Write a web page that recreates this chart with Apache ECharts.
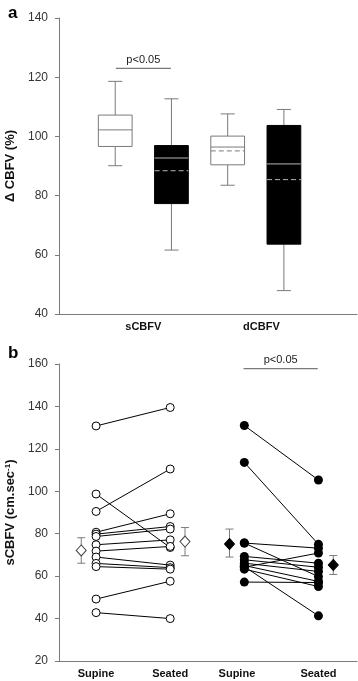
<!DOCTYPE html>
<html>
<head>
<meta charset="utf-8">
<script src="https://cdn.jsdelivr.net/npm/echarts@6/dist/echarts.min.js"></script>
<style>
html, body { margin: 0; padding: 0; background: #fff; }
#main { width: 358px; height: 681px; }
</style>
</head>
<body>
<div id="main"></div>
<script>
// panel a: box summaries of the % change
var groupNames = ['sCBFV', 'dCBFV'];
var groupPos = [1.5, 3.6];
var boxPos = [1, 2, 3, 4];
var boxDark = [0, 1, 0, 1];
var boxMin = [90.1, 61.6, 83.5, 47.9];
var boxQ1 = [96.6, 77.3, 90.4, 63.6];
var boxMedian = [102.2, 92.7, 96.4, 90.7];
var boxQ3 = [107.2, 96.9, 100.1, 103.7];
var boxMax = [118.6, 112.7, 107.6, 109.1];
var boxMean = [102.2, 88.4, 95.1, 85.4];

// panel b: paired subjects, supine -> seated
var posNames = ['Supine', 'Seated', 'Supine', 'Seated'];
var posLabelAt = [1, 2, 2.9, 4];
var openSupine = [130.8, 98.7, 90.5, 80.7, 79.8, 78.7, 74.8, 71.8, 69.0, 66.0, 64.5, 49.2, 42.8];
var openSeated = [139.5, 73.5, 110.5, 89.4, 83.4, 82.2, 77.1, 74.0, 65.2, 64.0, 63.3, 57.6, 40.0];
var filledSupine = [131.0, 113.6, 75.6, 75.6, 69.3, 67.7, 66.1, 65.0, 64.2, 64.5, 63.3, 57.2];
var filledSeated = [105.3, 75.0, 73.2, 59.8, 66.1, 64.2, 62.2, 57.5, 70.9, 41.3, 55.1, 57.0];
var meanPos = [0.8, 2.2, 2.8, 4.2];
var meanVal = [72.1, 76.3, 75.2, 65.3];
var meanLow = [66.1, 69.6, 69.0, 60.8];
var meanHigh = [78.1, 82.9, 82.2, 69.7];
var meanFilled = [0, 0, 1, 1];

var FONT = '"Liberation Sans", Arial, sans-serif';
var AXIS_GREY = '#7a7a7a';

var chart = echarts.init(document.getElementById('main'));

function renderBox(params, api) {
	var x = api.value(0);
	var dark = api.value(7) === 1;
	var half = 0.3, capHalf = 0.125;
	var yOf = function (v) { return api.coord([x, v])[1]; };
	var cx = api.coord([x, 0])[0];
	var l = api.coord([x - half, 0])[0], r = api.coord([x + half, 0])[0];
	var cl = api.coord([x - capHalf, 0])[0], cr = api.coord([x + capHalf, 0])[0];
	var yMin = yOf(api.value(1)), yQ1 = yOf(api.value(2)), yMed = yOf(api.value(3));
	var yQ3 = yOf(api.value(4)), yMax = yOf(api.value(5));
	var ws = { stroke: AXIS_GREY, lineWidth: 1 };
	var inner = dark ? '#b5b5b5' : '#7a7a7a';
	var kids = [
		{ type: 'line', shape: { x1: cx, y1: yMax, x2: cx, y2: yQ3 }, style: ws },
		{ type: 'line', shape: { x1: cl, y1: yMax, x2: cr, y2: yMax }, style: ws },
		{ type: 'line', shape: { x1: cx, y1: yQ1, x2: cx, y2: yMin }, style: ws },
		{ type: 'line', shape: { x1: cl, y1: yMin, x2: cr, y2: yMin }, style: ws },
		{ type: 'rect', shape: { x: l, y: yQ3, width: r - l, height: yQ1 - yQ3 },
			style: { fill: dark ? '#000' : '#fff', stroke: dark ? '#000' : AXIS_GREY, lineWidth: 1 } }
	];
	var mean = api.value(6);
	if (mean !== api.value(3)) {
		var yMean = yOf(mean);
		kids.push({ type: 'line', shape: { x1: l, y1: yMean, x2: r, y2: yMean }, style: { stroke: inner, lineWidth: 1, lineDash: [5, 3] } });
	}
	kids.push({ type: 'line', shape: { x1: l, y1: yMed, x2: r, y2: yMed }, style: { stroke: inner, lineWidth: 1 } });
	return { type: 'group', children: kids };
}

function renderBracket(params, api) {
	var p1 = api.coord([api.value(0), api.value(2)]);
	var p2 = api.coord([api.value(1), api.value(2)]);
	return {
		type: 'group',
		children: [
			{ type: 'line', shape: { x1: p1[0], y1: p1[1], x2: p2[0], y2: p2[1] }, style: { stroke: AXIS_GREY, lineWidth: 1.2 } },
			{ type: 'text', style: { text: 'p<0.05', x: (p1[0] + p2[0]) / 2, y: p1[1] - 3,
				align: 'center', verticalAlign: 'bottom', font: '11px ' + FONT, fill: '#222' } }
		]
	};
}

function renderErr(params, api) {
	var x = api.value(0);
	var lo = api.coord([x, api.value(1)]);
	var hi = api.coord([x, api.value(2)]);
	var w = 4;
	var st = { stroke: AXIS_GREY, lineWidth: 1 };
	return {
		type: 'group',
		children: [
			{ type: 'line', shape: { x1: lo[0], y1: lo[1], x2: hi[0], y2: hi[1] }, style: st },
			{ type: 'line', shape: { x1: lo[0] - w, y1: lo[1], x2: lo[0] + w, y2: lo[1] }, style: st },
			{ type: 'line', shape: { x1: hi[0] - w, y1: hi[1], x2: hi[0] + w, y2: hi[1] }, style: st }
		]
	};
}

var boxData = boxPos.map(function (p, i) {
	return [p, boxMin[i], boxQ1[i], boxMedian[i], boxQ3[i], boxMax[i], boxMean[i], boxDark[i]];
});

var series = [
	{ type: 'custom', xAxisIndex: 0, yAxisIndex: 0, renderItem: renderBox, data: boxData, z: 3 },
	{ type: 'custom', xAxisIndex: 0, yAxisIndex: 0, renderItem: renderBracket, data: [[1.01, 1.99, 123]], z: 3 },
	{ type: 'custom', xAxisIndex: 1, yAxisIndex: 1, renderItem: renderBracket, data: [[2.99, 3.99, 157.8]], z: 3 }
];

// pair lines
function addPairs(sup, sea, x0) {
	for (var i = 0; i < sup.length; i++) {
		series.push({
			type: 'line', xAxisIndex: 1, yAxisIndex: 1, showSymbol: false, silent: true,
			lineStyle: { color: '#000', width: 1 }, z: 2,
			data: [[x0, sup[i]], [x0 + 1, sea[i]]]
		});
	}
}
addPairs(openSupine, openSeated, 1);
addPairs(filledSupine, filledSeated, 3);

function pts(vals, x) { return vals.map(function (v) { return [x, v]; }); }

series.push({
	type: 'scatter', xAxisIndex: 1, yAxisIndex: 1, symbol: 'circle', symbolSize: 8, z: 4,
	itemStyle: { color: '#fff', borderColor: '#000', borderWidth: 1, opacity: 1 },
	data: pts(openSupine, 1).concat(pts(openSeated, 2))
});
series.push({
	type: 'scatter', xAxisIndex: 1, yAxisIndex: 1, symbol: 'circle', symbolSize: 9, z: 4,
	itemStyle: { color: '#000', opacity: 1 },
	data: pts(filledSupine, 3).concat(pts(filledSeated, 4))
});

// mean +/- error
series.push({
	type: 'custom', xAxisIndex: 1, yAxisIndex: 1, renderItem: renderErr, z: 3,
	data: meanPos.map(function (p, i) { return [p, meanLow[i], meanHigh[i]]; })
});
series.push({
	type: 'scatter', xAxisIndex: 1, yAxisIndex: 1, symbol: 'diamond', symbolSize: [10, 11], z: 5,
	data: meanPos.map(function (p, i) {
		var f = meanFilled[i] === 1;
		return { value: [p, meanVal[i]], itemStyle: { color: f ? '#000' : '#fff', borderColor: f ? '#000' : '#444', borderWidth: 1, opacity: 1 } };
	})
});

var yCommon = {
	type: 'value',
	nameLocation: 'middle',
	nameRotate: 90,
	nameGap: 37,
	nameTextStyle: { fontFamily: FONT, fontSize: 13, fontWeight: 'bold', color: '#111' },
	axisLine: { show: true, lineStyle: { color: AXIS_GREY } },
	axisTick: { show: true, length: 4, lineStyle: { color: AXIS_GREY } },
	axisLabel: { fontFamily: FONT, fontSize: 12, color: '#333', margin: 11 },
	splitLine: { show: false }
};

var xCommon = {
	type: 'value',
	axisLine: { show: true, onZero: false, lineStyle: { color: AXIS_GREY } },
	axisTick: { show: false },
	splitLine: { show: false }
};

chart.setOption({
	animation: false,
	backgroundColor: '#fff',
	title: [
		{ text: 'a', left: 3, top: 0, textStyle: { fontFamily: FONT, fontSize: 17, fontWeight: 'bold', color: '#000' } },
		{ text: 'b', left: 3, top: 340, textStyle: { fontFamily: FONT, fontSize: 17, fontWeight: 'bold', color: '#000' } }
	],
	grid: [
		{ left: 59, right: 1, top: 18, height: 296, outerBoundsMode: 'none', containLabel: false },
		{ left: 59, right: 1, top: 364, height: 297, outerBoundsMode: 'none', containLabel: false }
	],
	xAxis: [
		Object.assign({}, xCommon, {
			gridIndex: 0, min: 0, max: 5.3,
			axisLabel: {
				customValues: groupPos, fontFamily: FONT, fontSize: 11, fontWeight: 'bold', color: '#111', margin: 7,
				formatter: function (v) { return groupNames[groupPos.indexOf(v)] || ''; }
			}
		}),
		Object.assign({}, xCommon, {
			gridIndex: 1, min: 0.5, max: 4.52,
			axisLabel: {
				customValues: posLabelAt, fontFamily: FONT, fontSize: 11, fontWeight: 'bold', color: '#111', margin: 7,
				formatter: function (v) { return posNames[posLabelAt.indexOf(v)] || ''; }
			}
		})
	],
	yAxis: [
		Object.assign({}, yCommon, { gridIndex: 0, min: 40, max: 140, interval: 20, name: '\u0394 CBFV (%)' }),
		Object.assign({}, yCommon, {
			gridIndex: 1, min: 20, max: 160, interval: 20,
			name: '{n|sCBFV (cm.sec}{s|-1}{n|)}',
			nameTextStyle: {
				fontFamily: FONT, fontSize: 13, fontWeight: 'bold', color: '#111',
				rich: {
					n: { fontFamily: FONT, fontSize: 13, fontWeight: 'bold', color: '#111' },
					s: { fontFamily: FONT, fontSize: 8, fontWeight: 'bold', color: '#111', verticalAlign: 'top', padding: [0, 0, 6, 0] }
				}
			}
		})
	],
	series: series
});
</script>
</body>
</html>
